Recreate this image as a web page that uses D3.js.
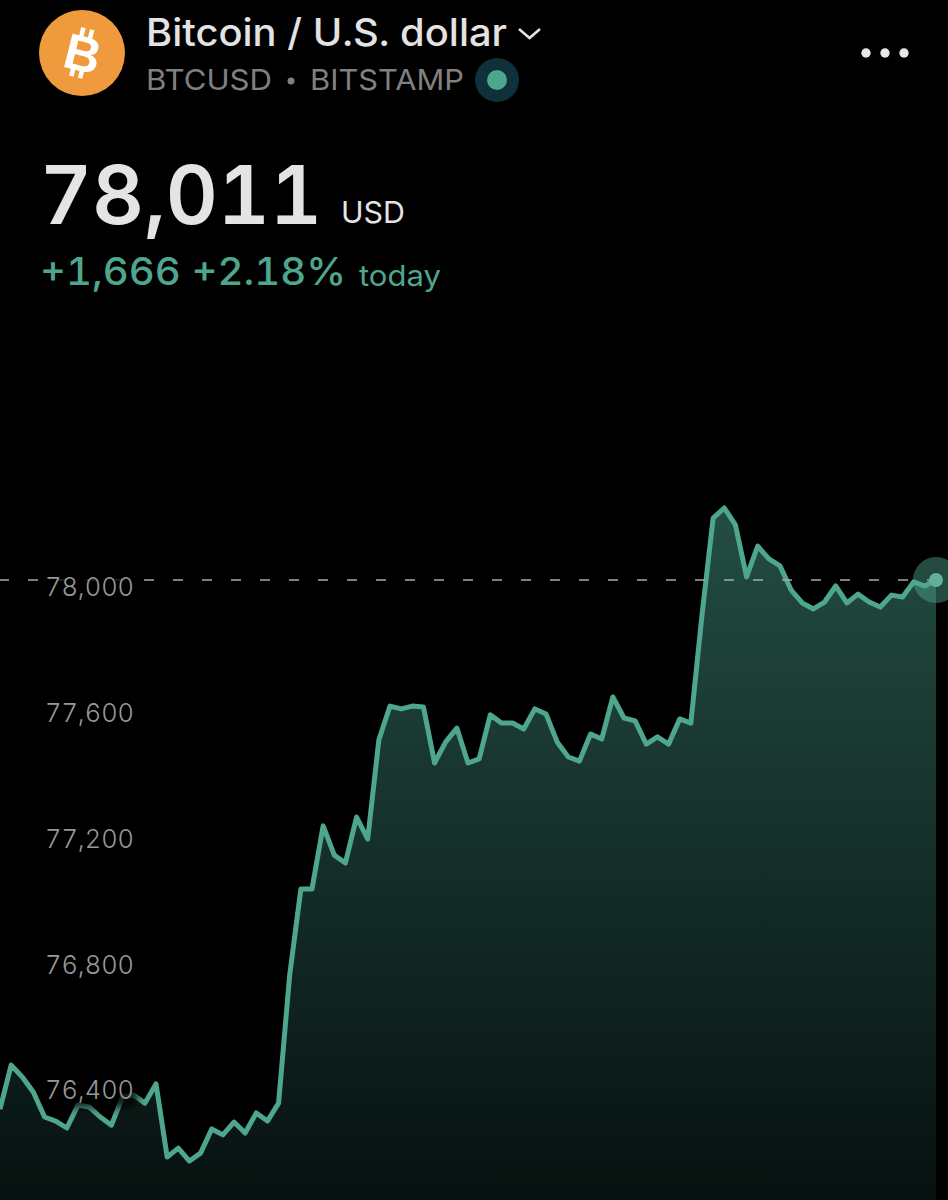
<!DOCTYPE html>
<html>
<head>
<meta charset="utf-8">
<script src="https://cdn.jsdelivr.net/npm/d3@7"></script>
<style>
  html, body { margin: 0; padding: 0; background: #000; }
  svg { display: block; font-family: Inter, Roboto, sans-serif; font-variant-numeric: tabular-nums; }
</style>
</head>
<body>
<svg id="chart" width="948" height="1200"></svg>
<script>
// price readings, left to right
var prices = [
  76328, 76468, 76430, 76382, 76303, 76290, 76268, 76341, 76335, 76303,
  76277, 76367, 76373, 76347, 76408, 76176, 76204, 76163, 76188, 76265,
  76246, 76287, 76252, 76316, 76290, 76347, 76755, 77028, 77028, 77229,
  77136, 77111, 77257, 77187, 77502, 77610, 77601, 77610, 77607, 77429,
  77496, 77540, 77429, 77442, 77582, 77556, 77556, 77537, 77601, 77585,
  77496, 77448, 77435, 77521, 77505, 77639, 77572, 77563, 77489, 77512,
  77489, 77569, 77556, 77900, 78208, 78240, 78186, 78021, 78119, 78078,
  78056, 77979, 77938, 77919, 77941, 77992, 77938, 77966, 77941, 77925,
  77963, 77957, 78005, 77992, 78011
];
var yTicks = [76400, 76800, 77200, 77600, 78000];
var lastPrice = 78011;

var lineColor = "#4fa68f";
var svg = d3.select("#chart");

var x = d3.scaleLinear().domain([0, prices.length - 1]).range([0, 936]);
// 400 USD is about 125.8px, last price sits on the dashed line at y=580
var y = d3.scaleLinear().domain([lastPrice, 76000]).range([580, 580 + (lastPrice - 76000) * 0.3144]);

var defs = svg.append("defs");
var grad = defs.append("linearGradient")
  .attr("id", "areaFill")
  .attr("gradientUnits", "userSpaceOnUse")
  .attr("x1", 0).attr("x2", 0)
  .attr("y1", 508).attr("y2", 1200);
grad.append("stop").attr("offset", "0%").attr("stop-color", "#234d42");
grad.append("stop").attr("offset", "100%").attr("stop-color", "#07110f");

defs.append("filter").attr("id", "soft")
  .attr("x", "-20%").attr("y", "-50%").attr("width", "140%").attr("height", "200%")
  .append("feGaussianBlur").attr("stdDeviation", 4);

// area and line
var area = d3.area()
  .x((d, i) => x(i))
  .y0(1200)
  .y1(d => y(d));
var line = d3.line()
  .x((d, i) => x(i))
  .y(d => y(d));

svg.append("path").datum(prices).attr("d", area).attr("fill", "url(#areaFill)");
svg.append("path").datum(prices).attr("d", line)
  .attr("fill", "none")
  .attr("stroke", lineColor)
  .attr("stroke-width", 5)
  .attr("stroke-linejoin", "round");

// dashed last price line
svg.append("line")
  .attr("x1", 0).attr("x2", 948)
  .attr("y1", y(lastPrice)).attr("y2", y(lastPrice))
  .attr("stroke", "#a9a9a9")
  .attr("stroke-width", 1.5)
  .attr("stroke-dasharray", "10 19")
  .attr("stroke-dashoffset", 1);

// last point marker
var last = prices.length - 1;
svg.append("circle").attr("cx", x(last)).attr("cy", y(lastPrice)).attr("r", 23)
  .attr("fill", lineColor).attr("fill-opacity", 0.45);
svg.append("circle").attr("cx", x(last)).attr("cy", y(lastPrice)).attr("r", 7)
  .attr("fill", "#62b09c");

// y axis labels, with a dark patch behind them that dims the line
var labels = svg.append("g").selectAll("g").data(yTicks).join("g");
labels.append("rect")
  .attr("x", 46).attr("width", 92)
  .attr("y", d => y(d) - 11).attr("height", 32)
  .attr("rx", 10)
  .attr("fill", "#000").attr("fill-opacity", 0.8)
  .attr("filter", "url(#soft)");
labels.append("text")
  .attr("x", 45)
  .attr("y", d => y(d) + 13)
  .attr("font-size", 26)
  .attr("font-weight", 300)
  .attr("fill", "#989898")
  .attr("textLength", 89)
  .attr("lengthAdjust", "spacingAndGlyphs")
  .text(d => d3.format(",")(d));

// header
var logo = svg.append("g").attr("transform", "translate(82,53)");
logo.append("circle").attr("r", 43).attr("fill", "#ef9a3d");
var glyph = logo.append("g").attr("transform", "rotate(14)");
glyph.append("text")
  .attr("x", 1).attr("y", 18)
  .attr("text-anchor", "middle")
  .attr("font-family", "'Liberation Sans'")
  .attr("font-weight", 700)
  .attr("font-size", 50)
  .attr("fill", "#fff")
  .text("B");
[-7, 2].forEach(function (dx) {
  glyph.selectAll(null).data([-25, 16]).join("rect")
    .attr("x", dx).attr("y", d => d).attr("width", 4.5).attr("height", 9).attr("fill", "#fff");
});

function label(str, xPos, yPos, size, weight, color, width) {
  svg.append("text").attr("x", xPos).attr("y", yPos)
    .attr("font-size", size).attr("font-weight", weight).attr("fill", color)
    .attr("textLength", width).attr("lengthAdjust", "spacingAndGlyphs")
    .text(str);
}

label("Bitcoin / U.S. dollar", 146, 46, 38, 500, "#e3e3e3", 361);
svg.append("path")
  .attr("d", d3.line()([[519, 29], [529.5, 38], [540, 29]]))
  .attr("fill", "none").attr("stroke", "#e3e3e3").attr("stroke-width", 2.6);

label("BTCUSD", 146, 90, 29, 400, "#808080", 126);
svg.append("circle").attr("cx", 291).attr("cy", 81).attr("r", 3.5).attr("fill", "#808080");
label("BITSTAMP", 310, 90, 29, 400, "#808080", 154);
svg.append("circle").attr("cx", 497).attr("cy", 80).attr("r", 22).attr("fill", "#10303a");
svg.append("circle").attr("cx", 497).attr("cy", 80).attr("r", 10).attr("fill", lineColor);

svg.selectAll(".dot").data([866, 885, 904]).join("circle")
  .attr("class", "dot")
  .attr("cx", d => d).attr("cy", 53).attr("r", 4.7).attr("fill", "#e8e8e8");

label("78,011", 40, 224, 81, 600, "#e4e4e4", 282);
label("USD", 341, 223, 30, 400, "#e4e4e4", 64);
label("+1,666 +2.18%", 40, 285, 38, 500, lineColor, 306);
label("today", 359, 286, 29, 400, lineColor, 82);
</script>
</body>
</html>
